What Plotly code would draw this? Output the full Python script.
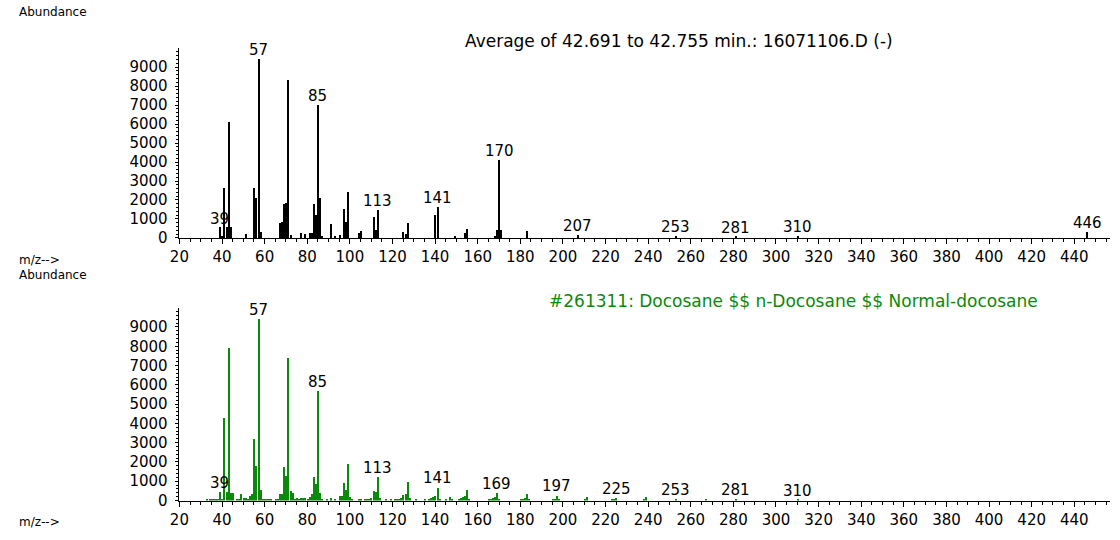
import plotly.graph_objects as go

# ---------------- data ----------------
top_mz = [39, 40, 41, 42, 43, 44, 51, 55, 56, 57, 58, 67, 68, 69, 70, 71, 72,
          77, 79, 81, 82, 83, 84, 85, 86, 87, 91, 93, 95, 97, 98, 99, 104, 105,
          111, 112, 113, 125, 126, 127, 140, 141, 149, 154, 155, 168, 169, 170,
          171, 183, 207, 253, 281, 310, 446]
top_ab = [550, 80, 2600, 550, 6100, 550, 200, 2600, 2100, 9400, 330, 800, 830,
          1800, 1830, 8300, 170, 260, 200, 260, 260, 1800, 1200, 7000, 2100, 80,
          725, 120, 150, 1540, 810, 2420, 260, 345, 1070, 430, 1470, 330, 200,
          760, 1210, 1620, 100, 240, 470, 70, 410, 4090, 410, 360, 150, 80, 60,
          100, 290]

bot_mz = [33, 34, 35, 36, 37, 38, 39, 40, 41, 42, 43, 44, 45, 47, 48, 49, 50,
          51, 52, 53, 54, 55, 56, 57, 58, 59, 60, 61, 62, 63, 65, 66, 67, 68,
          69, 70, 71, 72, 73, 74, 75, 76, 77, 78, 79, 80, 81, 82, 83, 84, 85,
          86, 87, 89, 91, 93, 95, 96, 97, 98, 99, 100, 101, 104, 105, 107, 108,
          109, 110, 111, 112, 113, 114, 117, 119, 121, 122, 123, 124, 125, 126,
          127, 128, 131, 135, 137, 138, 139, 140, 141, 142, 145, 147, 148, 151,
          152, 153, 154, 155, 156, 165, 166, 167, 168, 169, 170, 180, 181, 182,
          183, 184, 195, 196, 197, 198, 210, 211, 223, 224, 225, 238, 239, 253,
          267, 281, 310]
bot_ab = [60, 50, 60, 50, 80, 100, 460, 80, 4290, 460, 7900, 420, 380, 100, 80,
          360, 120, 150, 100, 250, 360, 3210, 1800, 9400, 540, 60, 80, 100, 60,
          60, 100, 110, 360, 360, 1730, 1290, 7400, 530, 410, 100, 130, 100,
          150, 120, 130, 100, 190, 360, 1220, 880, 5700, 410, 70, 60, 140, 90,
          240, 240, 920, 580, 1890, 190, 60, 80, 100, 70, 80, 100, 150, 480,
          460, 1220, 150, 60, 70, 60, 70, 100, 150, 300, 370, 950, 130, 60, 70,
          100, 150, 170, 250, 680, 100, 60, 170, 80, 80, 120, 170, 250, 560, 80,
          50, 80, 120, 170, 390, 60, 60, 100, 150, 340, 60, 70, 100, 270, 60,
          60, 170, 60, 100, 150, 80, 170, 90, 90, 80, 50]

top_labels = [39, 57, 85, 113, 141, 170, 207, 253, 281, 310, 446]
bot_labels = [39, 57, 85, 113, 141, 169, 197, 225, 253, 281, 310]

x_ticks = list(range(20, 441, 20))
y_ticks = list(range(0, 9001, 1000))

top_title = "Average of 42.691 to 42.755 min.: 16071106.D (-)"
bot_title = "#261311: Docosane $$ n-Docosane $$ Normal-docosane"

# ---------------- figure ----------------
W, H = 1120, 540
FONT = "DejaVu Sans"
GREEN = "#0a8a0a"
BARW = 0.55

fig = go.Figure()
fig.add_trace(go.Bar(x=top_mz, y=top_ab, width=BARW,
                     marker=dict(color="black", line=dict(width=0)),
                     xaxis="x", yaxis="y", hoverinfo="x+y"))
fig.add_trace(go.Bar(x=bot_mz, y=bot_ab, width=BARW,
                     marker=dict(color=GREEN, line=dict(width=0)),
                     xaxis="x2", yaxis="y2", hoverinfo="x+y"))

xdom = [171 / W, 1110 / W]
xr = [19.63, 456.8]


def xax(anchor):
    return dict(domain=xdom, range=xr, anchor=anchor, tickmode="array",
                tickvals=x_ticks, ticktext=[str(v) for v in x_ticks],
                ticks="outside", ticklen=5, tickwidth=1, tickcolor="black",
                minor=dict(dtick=5, tick0=0, ticks="outside", ticklen=3,
                           tickcolor="black", tickwidth=1),
                showline=True, linecolor="black", linewidth=1,
                showgrid=False, zeroline=False,
                tickfont=dict(family=FONT, size=15, color="black"))


def yax(dom, anchor):
    return dict(domain=dom, range=[0, 9995], anchor=anchor, tickmode="array",
                tickvals=y_ticks, ticktext=[str(v) for v in y_ticks],
                ticks="outside", ticklen=3, tickwidth=1, tickcolor="black",
                minor=dict(dtick=200, tick0=0, ticks="outside", ticklen=2,
                           tickcolor="black", tickwidth=1),
                showline=True, linecolor="black", linewidth=1,
                showgrid=False, zeroline=False, ticklabelstandoff=4,
                tickfont=dict(family=FONT, size=15, color="black"))


annotations = []


def add_labels(labels, mzs, abs_, xref, yref):
    lookup = dict(zip(mzs, abs_))
    for m in labels:
        annotations.append(dict(x=m, y=lookup.get(m, 0), xref=xref, yref=yref,
                                text=str(m), showarrow=False, yanchor="bottom",
                                yshift=-2,
                                font=dict(family=FONT, size=15, color="black")))


add_labels(top_labels, top_mz, top_ab, "x", "y")
add_labels(bot_labels, bot_mz, bot_ab, "x2", "y2")

for txt, x, y in [("Abundance", 8 / W, 1 - 12 / H), ("m/z-->", 8 / W, 1 - 264 / H),
                  ("Abundance", 8 / W, 1 - 280 / H), ("m/z-->", 8 / W, 1 - 531 / H)]:
    annotations.append(dict(x=x, y=y, xref="paper", yref="paper", text=txt,
                            showarrow=False, xanchor="left", yanchor="middle",
                            font=dict(family=FONT, size=12, color="black")))

annotations.append(dict(x=675 / W, y=1 - 42 / H, xref="paper", yref="paper",
                        text=top_title, showarrow=False, xanchor="center",
                        yanchor="middle",
                        font=dict(family=FONT, size=17, color="black")))
annotations.append(dict(x=791 / W, y=1 - 306 / H, xref="paper", yref="paper",
                        text=bot_title, showarrow=False, xanchor="center",
                        yanchor="middle",
                        font=dict(family=FONT, size=17, color=GREEN)))

fig.update_layout(
    width=W, height=H, margin=dict(l=0, r=0, t=0, b=0),
    paper_bgcolor="white", plot_bgcolor="white", showlegend=False,
    xaxis=xax("y"), yaxis=yax([1 - 242 / H, 1 - 49 / H], "x"),
    xaxis2=xax("y2"), yaxis2=yax([1 - 509 / H, 1 - 313 / H], "x2"),
    annotations=annotations, bargap=0,
)

fig.write_html("out.html")
